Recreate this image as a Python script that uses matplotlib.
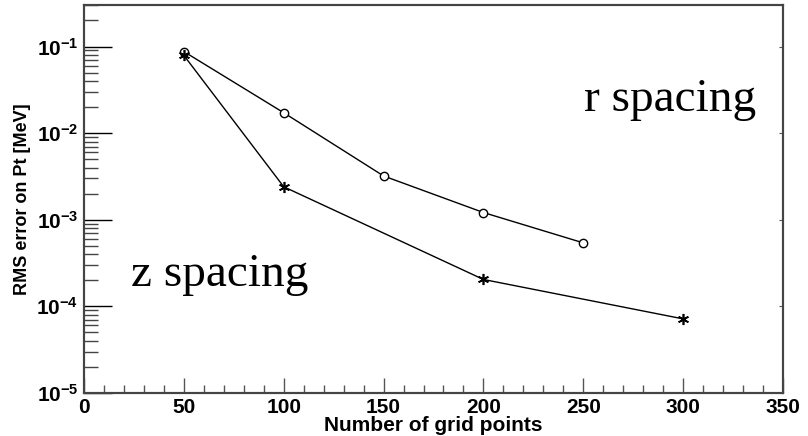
import matplotlib.pyplot as plt
import matplotlib.ticker as mticker

plt.rcParams['font.family'] = 'Liberation Sans'

# data
r_points = [50, 100, 150, 200, 250]
r_error = [0.0875, 0.0172, 0.0032, 0.00121, 0.00054]

z_points = [50, 100, 200, 300]
z_error = [0.079, 0.0024, 0.000204, 0.0000715]

fig = plt.figure(figsize=(8.08, 4.36), dpi=100)
ax = fig.add_axes([0.104, 0.099, 0.865, 0.889])

ax.plot(r_points, r_error, color='black', lw=1.0, marker='o', ms=6,
        mfc='white', mec='black', mew=1.0)
ax.plot(z_points, z_error, color='black', lw=1.0, marker=(6, 2, 0), ms=8,
        mec='black', mew=1.2)

ax.set_yscale('log')
ax.set_xlim(0, 350)
ax.set_ylim(1e-5, 0.3)

ax.xaxis.set_major_locator(mticker.MultipleLocator(50))
ax.xaxis.set_minor_locator(mticker.MultipleLocator(10))
ax.yaxis.set_major_locator(mticker.LogLocator(base=10, numticks=10))
ax.yaxis.set_minor_locator(mticker.LogLocator(base=10, subs=range(2, 10), numticks=20))
ax.yaxis.set_minor_formatter(mticker.NullFormatter())

ax.tick_params(axis='x', which='major', direction='in', length=11, width=1.0,
               color='#555555', labelsize=15, pad=4)
ax.tick_params(axis='x', which='minor', direction='in', length=6, width=1.0,
               color='#555555')
ax.tick_params(axis='y', which='major', direction='in', length=20, width=1.0,
               color='black', labelsize=15, pad=4)
ax.tick_params(axis='y', which='minor', direction='in', length=10, width=1.0,
               color='#444444')
for lab in ax.get_xticklabels() + ax.get_yticklabels():
    lab.set_fontweight('bold')

# short ticks on the right edge
ax_r = ax.twinx()
ax_r.set_yscale('log')
ax_r.set_ylim(ax.get_ylim())
ax_r.yaxis.set_major_locator(mticker.LogLocator(base=10, numticks=10))
ax_r.yaxis.set_minor_locator(mticker.NullLocator())
ax_r.tick_params(axis='y', which='major', direction='in', length=3,
                 color='#555555', labelright=False)

for a in (ax, ax_r):
    for sp in a.spines.values():
        sp.set_color('#444444')
        sp.set_linewidth(1.5)

ax.set_xlabel('Number of grid points', fontsize=15, fontweight='bold', labelpad=-1)
ax.set_ylabel('RMS error on Pt [MeV]', fontsize=13, fontweight='bold', labelpad=4)

fig.text(670 / 808, 1 - 100 / 436, 'r spacing', fontsize=34,
         family='Liberation Serif', ha='center', va='center')
fig.text(220 / 808, 1 - 275 / 436, 'z spacing', fontsize=34,
         family='Liberation Serif', ha='center', va='center')

fig.savefig('out.png', dpi=100)
